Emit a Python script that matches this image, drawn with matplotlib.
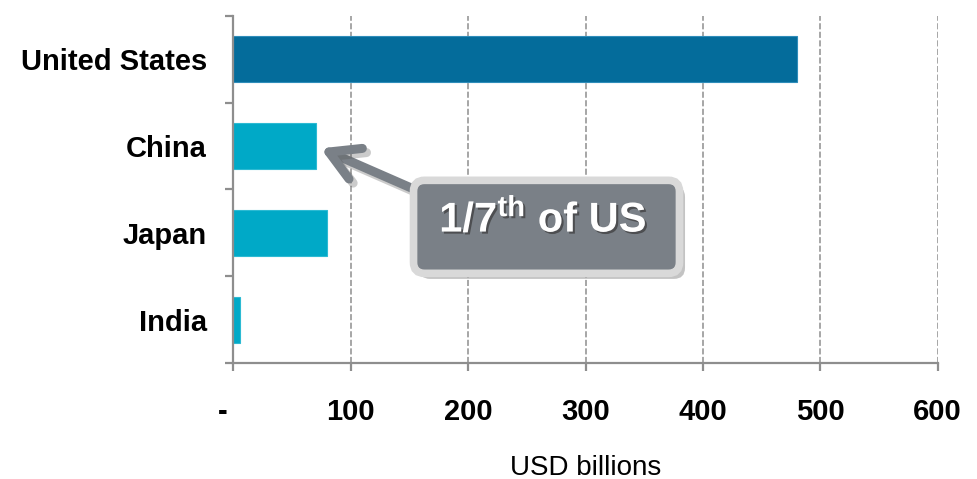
import matplotlib
matplotlib.use("Agg")
import matplotlib.pyplot as plt
from matplotlib.patches import FancyBboxPatch
from matplotlib import patheffects as pe
from matplotlib.transforms import ScaledTranslation, IdentityTransform

plt.rcParams['font.family'] = ['Liberation Sans', 'DejaVu Sans']
plt.rcParams['mathtext.fontset'] = 'custom'
plt.rcParams['mathtext.rm'] = 'Liberation Sans:bold'
plt.rcParams['mathtext.bf'] = 'Liberation Sans:bold'
plt.rcParams['mathtext.it'] = 'Liberation Sans:bold'

# Data
countries = ["United States", "China", "Japan", "India"]
values = [480, 70, 80, 6]
bar_colors = ["#046c9b", "#00a9c7", "#00a9c7", "#00a9c7"]
edge_colors = ["#2f8dba", "#2cbad3", "#2cbad3", "#2cbad3"]
x_ticks = [0, 100, 200, 300, 400, 500, 600]
x_ticklabels = ["-", "100", "200", "300", "400", "500", "600"]
x_label = "USD billions"
callout_text = r"$\mathbf{1/7^{th}}$ of US"

AXIS_GRAY = "#8e8e8e"
BOX_GRAY = "#7a8087"
BORDER_GRAY = "#d9d9d9"

fig = plt.figure(figsize=(9.78, 4.79), dpi=100)
ax = fig.add_axes([0.2386, 0.2422, 0.7202, 0.7244])

ypos = list(range(len(countries)))
ax.barh(ypos, values, height=0.53, color=bar_colors,
        edgecolor=edge_colors, linewidth=0.8, zorder=2)

ax.set_xlim(0, 600)
ax.set_ylim(len(countries) - 0.5, -0.5)

# Axes styling
for side in ("top", "right"):
    ax.spines[side].set_visible(False)
for side in ("left", "bottom"):
    ax.spines[side].set_color(AXIS_GRAY)
    ax.spines[side].set_linewidth(1.6)
    ax.spines[side].set_zorder(3)

ax.set_xticks(x_ticks)
ax.set_xticklabels(x_ticklabels, fontsize=21, fontweight="bold")
ax.tick_params(axis="x", direction="out", length=6, width=1.6,
               color=AXIS_GRAY, pad=19)
# nudge the zero label left, like an accounting-format dash
dash = ax.get_xticklabels()[0]
dash.set_transform(dash.get_transform() +
                   ScaledTranslation(-0.11, 0, fig.dpi_scale_trans))

ax.set_yticks(ypos)
ax.set_yticklabels(countries, fontsize=21, fontweight="bold")
ax.set_yticks([y - 0.5 for y in range(len(countries) + 1)], minor=True)
ax.tick_params(axis="y", which="major", length=0, pad=19)
ax.tick_params(axis="y", which="minor", direction="out", length=6,
               width=1.6, color=AXIS_GRAY)

ax.xaxis.grid(True, color=AXIS_GRAY, linestyle=(0, (4, 1.6)),
              linewidth=1.1)
ax.set_axisbelow(True)

ax.set_xlabel(x_label, fontsize=20, labelpad=21)

# Callout box: placed in data coordinates, drawn in display space so the
# rounded corners stay circular
fig.canvas.draw()
box_x0, box_x1 = 150.5, 383.0
box_y0, box_y1 = 1.354, 2.507
(px0, py0) = ax.transData.transform((box_x0, box_y1))
(px1, py1) = ax.transData.transform((box_x1, box_y0))

box = FancyBboxPatch((px0 + 3.5, py0 + 3.5), (px1 - px0) - 7, (py1 - py0) - 7,
                     boxstyle="round,pad=0,rounding_size=11",
                     facecolor=BOX_GRAY, edgecolor=BORDER_GRAY,
                     linewidth=5.5, zorder=6, clip_on=False,
                     transform=IdentityTransform())
box.set_path_effects([
    pe.SimplePatchShadow(offset=(4, -4), shadow_rgbFace="#555555", alpha=0.35),
    pe.Normal()])
ax.add_artist(box)

ax.text((box_x0 + box_x1) / 2 - 3, 1.84, callout_text,
        fontsize=30, fontweight="bold", color="white",
        ha="center", va="center", zorder=7,
        path_effects=[pe.SimplePatchShadow(offset=(1.5, -1.5),
                                           shadow_rgbFace="#3a3a3a", alpha=0.7),
                      pe.Normal()])

# Arrow from the callout to the China bar
ax.annotate("", xy=(values[1], 1), xytext=(box_x0 + 4, 1.50),
            zorder=5,
            arrowprops=dict(arrowstyle="->,head_length=1.05,head_width=0.6",
                            mutation_scale=20, color=BOX_GRAY, lw=6.5,
                            shrinkA=0, shrinkB=4, capstyle="round",
                            joinstyle="round",
                            path_effects=[pe.SimpleLineShadow(offset=(3, -3),
                                                              shadow_color="#555555",
                                                              alpha=0.3),
                                          pe.Normal()]))

fig.savefig("out.png", dpi=100)
